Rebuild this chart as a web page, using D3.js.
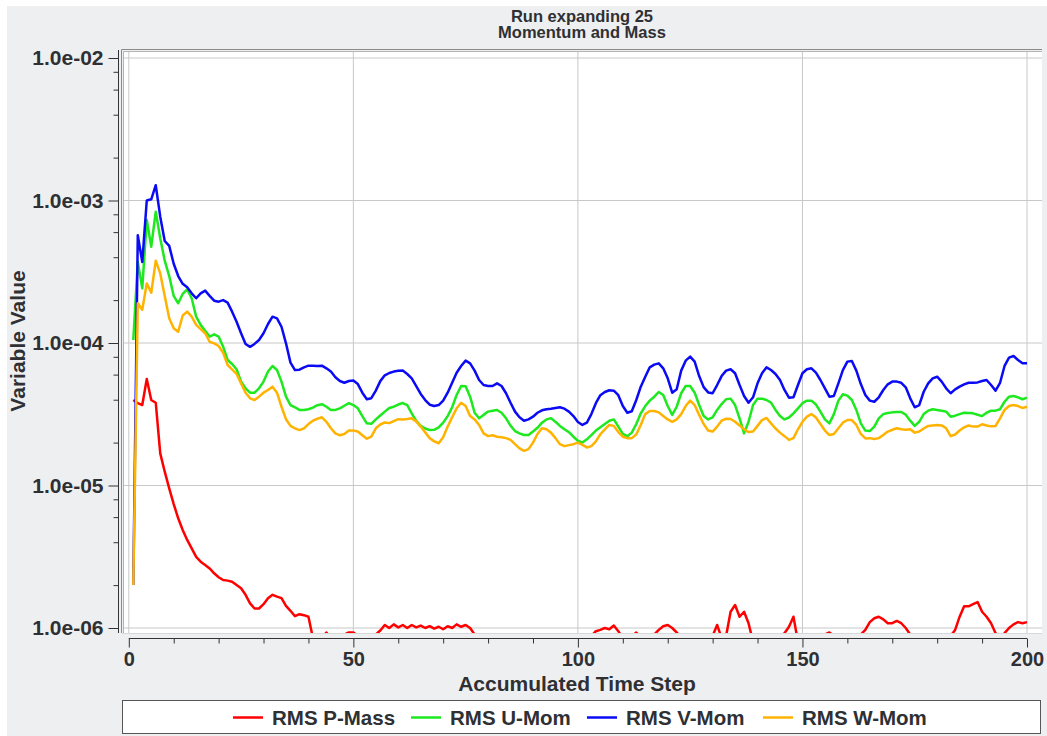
<!DOCTYPE html>
<html>
<head>
<meta charset="utf-8">
<script src="https://cdn.jsdelivr.net/npm/d3@7"></script>
<style>
  body { margin: 0; background: #fff; }
  svg text { font-family: "Liberation Sans", Arial, sans-serif; fill: #2e3033; }
  .tick-label { font-size: 20px; font-weight: bold; }
  .y-tick { font-size: 21px; }
  .axis-label { font-size: 21px; font-weight: bold; }
  .title { font-size: 16.5px; font-weight: bold; }
  .legend-text { font-size: 20.5px; font-weight: bold; }
</style>
</head>
<body>
<svg width="1047" height="736"></svg>
<script>
// chart data: RMS residuals per accumulated time step (1..200)
const steps = d3.range(1, 201);

const pMass = [
  3.98e-5, 3.78e-5, 3.67e-5, 5.59e-5, 3.98e-5, 3.81e-5, 1.68e-5, 1.25e-5, 9.55e-6, 7.41e-6,
  5.89e-6, 4.87e-6, 4.15e-6, 3.62e-6, 3.16e-6, 2.92e-6, 2.77e-6, 2.62e-6, 2.42e-6, 2.27e-6,
  2.17e-6, 2.15e-6, 2.11e-6, 2.0e-6, 1.9e-6, 1.71e-6, 1.49e-6, 1.37e-6, 1.37e-6, 1.47e-6,
  1.62e-6, 1.71e-6, 1.66e-6, 1.62e-6, 1.43e-6, 1.32e-6, 1.21e-6, 1.25e-6, 1.23e-6, 1.2e-6,
  8.5e-7, 8.0e-7, 8.5e-7, 9.3e-7, 8.5e-7, 8.2e-7, 8.6e-7, 9.0e-7, 9.3e-7, 9.3e-7,
  8.8e-7, 8.5e-7, 8.4e-7, 8.6e-7, 9.0e-7, 9.6e-7, 1.05e-6, 1.0e-6, 1.06e-6, 1.01e-6,
  1.05e-6, 1.0e-6, 1.05e-6, 1.01e-6, 1.04e-6, 1.0e-6, 1.03e-6, 9.9e-7, 1.02e-6, 9.8e-7,
  1.03e-6, 1.0e-6, 1.06e-6, 1.02e-6, 1.05e-6, 1.0e-6, 9.0e-7, 8.5e-7, 8.2e-7, 8.0e-7,
  8.3e-7, 8.6e-7, 8.4e-7, 8.0e-7, 7.8e-7, 8.0e-7, 8.2e-7, 8.5e-7, 8.3e-7, 8.1e-7,
  8.0e-7, 8.3e-7, 8.6e-7, 8.4e-7, 8.2e-7, 8.0e-7, 8.2e-7, 8.5e-7, 8.7e-7, 8.5e-7,
  8.3e-7, 8.6e-7, 8.8e-7, 9.5e-7, 9.7e-7, 1.0e-6, 9.8e-7, 1.04e-6, 9.5e-7, 8.5e-7,
  8.4e-7, 8.7e-7, 9.3e-7, 8.6e-7, 8.4e-7, 8.6e-7, 9.0e-7, 9.7e-7, 1.03e-6, 1.05e-6,
  1.0e-6, 9.3e-7, 8.6e-7, 8.4e-7, 8.3e-7, 8.5e-7, 8.6e-7, 8.4e-7, 8.5e-7, 8.8e-7,
  1.05e-6, 8.5e-7, 8.8e-7, 1.3e-6, 1.45e-6, 1.2e-6, 1.3e-6, 1.08e-6, 8.0e-7, 8.2e-7,
  8.4e-7, 8.5e-7, 8.6e-7, 8.5e-7, 8.7e-7, 9.2e-7, 1.02e-6, 1.2e-6, 8.0e-7, 8.2e-7,
  8.4e-7, 8.6e-7, 8.5e-7, 8.7e-7, 9.0e-7, 9.3e-7, 8.8e-7, 8.5e-7, 8.4e-7, 8.3e-7,
  8.5e-7, 8.6e-7, 9.0e-7, 9.7e-7, 1.1e-6, 1.17e-6, 1.2e-6, 1.15e-6, 1.08e-6, 1.08e-6,
  1.12e-6, 1.08e-6, 1.0e-6, 9.0e-7, 8.5e-7, 8.3e-7, 8.4e-7, 8.6e-7, 8.5e-7, 8.4e-7,
  8.6e-7, 8.5e-7, 8.8e-7, 9.7e-7, 1.2e-6, 1.42e-6, 1.42e-6, 1.47e-6, 1.52e-6, 1.3e-6,
  1.2e-6, 1.08e-6, 9.2e-7, 8.5e-7, 9.2e-7, 1.0e-6, 1.06e-6, 1.1e-6, 1.08e-6, 1.1e-6
];

const uMom = [
  1.05e-4, 3.7e-4, 2.42e-4, 7.3e-4, 4.74e-4, 8.35e-4, 5.43e-4, 3.78e-4, 2.95e-4, 2.14e-4,
  1.9e-4, 2.21e-4, 2.38e-4, 2.06e-4, 1.53e-4, 1.34e-4, 1.22e-4, 1.11e-4, 1.15e-4, 1.11e-4,
  9.42e-5, 7.6e-5, 7.12e-5, 6.54e-5, 5.36e-5, 4.81e-5, 4.48e-5, 4.48e-5, 4.81e-5, 5.36e-5,
  6.3e-5, 6.9e-5, 6.46e-5, 5.36e-5, 4.2e-5, 3.67e-5, 3.54e-5, 3.39e-5, 3.39e-5, 3.43e-5,
  3.52e-5, 3.66e-5, 3.72e-5, 3.57e-5, 3.39e-5, 3.39e-5, 3.48e-5, 3.63e-5, 3.78e-5, 3.67e-5,
  3.48e-5, 3.07e-5, 2.73e-5, 2.71e-5, 2.91e-5, 3.1e-5, 3.3e-5, 3.5e-5, 3.57e-5, 3.7e-5,
  3.79e-5, 3.66e-5, 3.21e-5, 2.84e-5, 2.62e-5, 2.51e-5, 2.45e-5, 2.46e-5, 2.56e-5, 2.76e-5,
  3.07e-5, 3.54e-5, 4.32e-5, 4.99e-5, 4.97e-5, 4.2e-5, 3.24e-5, 2.96e-5, 3.13e-5, 3.3e-5,
  3.35e-5, 3.39e-5, 3.24e-5, 2.96e-5, 2.63e-5, 2.41e-5, 2.32e-5, 2.26e-5, 2.26e-5, 2.39e-5,
  2.54e-5, 2.76e-5, 2.91e-5, 2.96e-5, 2.8e-5, 2.62e-5, 2.48e-5, 2.37e-5, 2.2e-5, 2.06e-5,
  2.0e-5, 2.11e-5, 2.26e-5, 2.43e-5, 2.56e-5, 2.7e-5, 2.85e-5, 2.91e-5, 2.59e-5, 2.3e-5,
  2.22e-5, 2.35e-5, 2.7e-5, 3.21e-5, 3.61e-5, 3.94e-5, 4.2e-5, 4.53e-5, 4.32e-5, 3.61e-5,
  3.13e-5, 3.57e-5, 4.44e-5, 4.99e-5, 4.99e-5, 4.48e-5, 3.67e-5, 3.07e-5, 2.91e-5, 3.01e-5,
  3.39e-5, 3.73e-5, 4.03e-5, 4.07e-5, 3.67e-5, 2.96e-5, 2.32e-5, 2.8e-5, 3.67e-5, 4.07e-5,
  4.07e-5, 3.98e-5, 3.82e-5, 3.39e-5, 3.07e-5, 2.91e-5, 3.0e-5, 3.21e-5, 3.48e-5, 3.78e-5,
  3.94e-5, 3.94e-5, 3.7e-5, 3.3e-5, 2.91e-5, 2.73e-5, 3.17e-5, 3.94e-5, 4.37e-5, 4.27e-5,
  3.98e-5, 3.39e-5, 2.73e-5, 2.43e-5, 2.41e-5, 2.59e-5, 2.96e-5, 3.17e-5, 3.23e-5, 3.26e-5,
  3.28e-5, 3.28e-5, 3.14e-5, 2.85e-5, 2.62e-5, 2.8e-5, 3.17e-5, 3.35e-5, 3.43e-5, 3.39e-5,
  3.35e-5, 3.3e-5, 3.04e-5, 3.09e-5, 3.17e-5, 3.24e-5, 3.23e-5, 3.21e-5, 3.14e-5, 3.07e-5,
  3.24e-5, 3.35e-5, 3.35e-5, 3.43e-5, 3.87e-5, 4.2e-5, 4.25e-5, 4.16e-5, 4.03e-5, 4.14e-5
];

const vMom = [
  2.0e-6, 5.7e-4, 3.7e-4, 1.0e-3, 1.02e-3, 1.28e-3, 7.7e-4, 5.2e-4, 4.8e-4, 3.6e-4,
  2.95e-4, 2.6e-4, 2.46e-4, 2.23e-4, 2.06e-4, 2.23e-4, 2.33e-4, 2.14e-4, 1.98e-4, 1.95e-4,
  2.0e-4, 1.92e-4, 1.66e-4, 1.41e-4, 1.17e-4, 9.85e-5, 9.4e-5, 9.85e-5, 1.05e-4, 1.17e-4,
  1.36e-4, 1.53e-4, 1.49e-4, 1.3e-4, 9.95e-5, 7.28e-5, 6.46e-5, 6.5e-5, 6.75e-5, 6.93e-5,
  6.93e-5, 6.9e-5, 6.93e-5, 6.64e-5, 6.3e-5, 5.75e-5, 5.41e-5, 5.26e-5, 5.41e-5, 5.45e-5,
  5.15e-5, 4.48e-5, 4.03e-5, 4.1e-5, 4.63e-5, 5.4e-5, 5.93e-5, 6.16e-5, 6.3e-5, 6.38e-5,
  6.4e-5, 6.06e-5, 5.65e-5, 4.99e-5, 4.39e-5, 3.98e-5, 3.69e-5, 3.61e-5, 3.67e-5, 3.94e-5,
  4.48e-5, 5.26e-5, 6.19e-5, 6.9e-5, 7.52e-5, 7.2e-5, 6.4e-5, 5.5e-5, 5.07e-5, 4.99e-5,
  4.99e-5, 5.21e-5, 4.99e-5, 4.44e-5, 3.81e-5, 3.3e-5, 3.01e-5, 2.85e-5, 2.91e-5, 3.04e-5,
  3.24e-5, 3.37e-5, 3.43e-5, 3.46e-5, 3.5e-5, 3.54e-5, 3.46e-5, 3.3e-5, 3.07e-5, 2.79e-5,
  2.66e-5, 2.76e-5, 3.17e-5, 3.78e-5, 4.3e-5, 4.53e-5, 4.66e-5, 4.63e-5, 4.3e-5, 3.61e-5,
  3.24e-5, 3.32e-5, 3.98e-5, 4.94e-5, 5.8e-5, 6.75e-5, 7.05e-5, 7.2e-5, 6.64e-5, 5.65e-5,
  4.48e-5, 4.73e-5, 6.4e-5, 7.52e-5, 8.02e-5, 7.4e-5, 5.86e-5, 4.9e-5, 4.5e-5, 4.44e-5,
  5.07e-5, 5.86e-5, 6.4e-5, 6.54e-5, 6.13e-5, 5.07e-5, 4.25e-5, 3.81e-5, 4.16e-5, 5.21e-5,
  6.13e-5, 6.75e-5, 6.46e-5, 6.06e-5, 5.5e-5, 4.68e-5, 4.13e-5, 4.16e-5, 5.07e-5, 6.13e-5,
  6.54e-5, 6.64e-5, 6.19e-5, 5.5e-5, 4.81e-5, 4.2e-5, 4.25e-5, 5.21e-5, 6.46e-5, 7.4e-5,
  7.48e-5, 6.4e-5, 5.15e-5, 4.32e-5, 3.94e-5, 3.87e-5, 4.16e-5, 4.68e-5, 5.13e-5, 5.36e-5,
  5.36e-5, 5.26e-5, 4.89e-5, 4.09e-5, 3.54e-5, 3.66e-5, 4.55e-5, 5.21e-5, 5.65e-5, 5.8e-5,
  5.36e-5, 4.81e-5, 4.44e-5, 4.73e-5, 4.94e-5, 5.13e-5, 5.26e-5, 5.26e-5, 5.29e-5, 5.41e-5,
  5.5e-5, 5.07e-5, 4.63e-5, 5.26e-5, 6.9e-5, 7.89e-5, 8.1e-5, 7.6e-5, 7.2e-5, 7.2e-5
];

const wMom = [
  2.0e-6, 1.9e-4, 1.71e-4, 2.62e-4, 2.25e-4, 3.78e-4, 3.08e-4, 2.14e-4, 1.49e-4, 1.27e-4,
  1.2e-4, 1.56e-4, 1.66e-4, 1.53e-4, 1.34e-4, 1.25e-4, 1.17e-4, 1.02e-4, 9.95e-5, 9.52e-5,
  8.55e-5, 7.01e-5, 6.54e-5, 6.06e-5, 5.21e-5, 4.48e-5, 4.09e-5, 3.98e-5, 4.2e-5, 4.48e-5,
  4.68e-5, 4.94e-5, 4.48e-5, 3.57e-5, 2.92e-5, 2.62e-5, 2.52e-5, 2.45e-5, 2.52e-5, 2.7e-5,
  2.85e-5, 2.94e-5, 3.01e-5, 2.8e-5, 2.52e-5, 2.32e-5, 2.25e-5, 2.3e-5, 2.43e-5, 2.43e-5,
  2.39e-5, 2.25e-5, 2.13e-5, 2.2e-5, 2.52e-5, 2.68e-5, 2.77e-5, 2.74e-5, 2.83e-5, 2.92e-5,
  2.91e-5, 2.93e-5, 2.96e-5, 2.82e-5, 2.59e-5, 2.36e-5, 2.15e-5, 2.04e-5, 1.98e-5, 2.18e-5,
  2.59e-5, 3.01e-5, 3.48e-5, 3.81e-5, 3.61e-5, 3.07e-5, 2.91e-5, 2.66e-5, 2.32e-5, 2.22e-5,
  2.25e-5, 2.2e-5, 2.18e-5, 2.15e-5, 2.09e-5, 1.95e-5, 1.82e-5, 1.75e-5, 1.8e-5, 2.0e-5,
  2.3e-5, 2.52e-5, 2.48e-5, 2.35e-5, 2.15e-5, 1.95e-5, 1.89e-5, 1.92e-5, 1.95e-5, 2.0e-5,
  1.93e-5, 1.85e-5, 1.89e-5, 2.04e-5, 2.29e-5, 2.48e-5, 2.66e-5, 2.62e-5, 2.37e-5, 2.2e-5,
  2.15e-5, 2.15e-5, 2.28e-5, 2.66e-5, 3.17e-5, 3.33e-5, 3.33e-5, 3.26e-5, 3.07e-5, 2.91e-5,
  2.8e-5, 2.91e-5, 3.17e-5, 3.61e-5, 3.94e-5, 3.67e-5, 3.13e-5, 2.7e-5, 2.43e-5, 2.39e-5,
  2.59e-5, 2.85e-5, 2.94e-5, 2.93e-5, 2.8e-5, 2.64e-5, 2.48e-5, 2.37e-5, 2.39e-5, 2.62e-5,
  2.88e-5, 2.98e-5, 2.73e-5, 2.51e-5, 2.35e-5, 2.22e-5, 2.09e-5, 2.15e-5, 2.48e-5, 2.8e-5,
  3.04e-5, 3.17e-5, 3.0e-5, 2.7e-5, 2.43e-5, 2.26e-5, 2.3e-5, 2.52e-5, 2.76e-5, 2.88e-5,
  2.88e-5, 2.66e-5, 2.3e-5, 2.14e-5, 2.15e-5, 2.12e-5, 2.15e-5, 2.26e-5, 2.39e-5, 2.46e-5,
  2.52e-5, 2.48e-5, 2.46e-5, 2.48e-5, 2.35e-5, 2.39e-5, 2.51e-5, 2.62e-5, 2.64e-5, 2.66e-5,
  2.64e-5, 2.52e-5, 2.22e-5, 2.28e-5, 2.43e-5, 2.56e-5, 2.64e-5, 2.59e-5, 2.59e-5, 2.69e-5,
  2.64e-5, 2.6e-5, 2.62e-5, 2.96e-5, 3.39e-5, 3.61e-5, 3.67e-5, 3.61e-5, 3.5e-5, 3.57e-5
];

const seriesNames = ['RMS P-Mass', 'RMS U-Mom', 'RMS V-Mom', 'RMS W-Mom'];
const seriesColors = ['#ff0000', '#1ee81e', '#0a0af5', '#ffb300'];
const seriesValues = [pMass, uMom, vMom, wMom];

const titleLines = ['Run expanding 25', 'Momentum and Mass'];
const xTicks = [0, 50, 100, 150, 200];
const yTicks = [1e-6, 1e-5, 1e-4, 1e-3, 1e-2];

//declare svg variables
const svg = d3.select('svg');

// grey chart panel
svg.append('rect')
    .attr('x', 7).attr('y', 6)
    .attr('width', 1040).attr('height', 730)
    .attr('fill', '#eeeff1');

// plot area
const plot = { left: 124, right: 1042, top: 52, bottom: 633 };

const xScale = d3.scaleLinear()
    .domain([0, 200])
    .range([128.8, 1027]);

const yScale = d3.scaleLog()
    .domain([1e-6, 1e-2])
    .range([628, 58]);

svg.append('rect')
    .attr('x', plot.left).attr('y', plot.top)
    .attr('width', plot.right - plot.left).attr('height', plot.bottom - plot.top)
    .attr('fill', '#fff');

// grid lines
svg.append('g').selectAll('line').data(xTicks).enter().append('line')
    .attr('x1', d => xScale(d)).attr('x2', d => xScale(d))
    .attr('y1', plot.top).attr('y2', plot.bottom)
    .attr('stroke', '#c8c8c8').attr('stroke-width', 1);

svg.append('g').selectAll('line').data(yTicks).enter().append('line')
    .attr('x1', plot.left).attr('x2', plot.right)
    .attr('y1', d => yScale(d)).attr('y2', d => yScale(d))
    .attr('stroke', '#c8c8c8').attr('stroke-width', 1);

// frame round the plot
svg.append('path')
    .attr('d', `M${plot.left - 2.5},${plot.bottom} V${plot.top - 2.5} H${plot.right}`)
    .attr('fill', 'none').attr('stroke', '#8a8a8a').attr('stroke-width', 1);
svg.append('path')
    .attr('d', `M${plot.left - 0.5},${plot.bottom} V${plot.top - 0.5} H${plot.right}`)
    .attr('fill', 'none').attr('stroke', '#b4b4b4').attr('stroke-width', 1);
svg.append('line')
    .attr('x1', plot.left - 2).attr('x2', plot.right)
    .attr('y1', plot.bottom + 0.5).attr('y2', plot.bottom + 0.5)
    .attr('stroke', '#d8d8d8');

// series lines, clipped to plot area
svg.append('clipPath').attr('id', 'plot-clip')
    .append('rect')
    .attr('x', plot.left).attr('y', plot.top)
    .attr('width', plot.right - plot.left).attr('height', plot.bottom - plot.top);

const line = d3.line()
    .x(d => xScale(d[0]))
    .y(d => yScale(d[1]));

const linesG = svg.append('g').attr('clip-path', 'url(#plot-clip)');
seriesValues.forEach((values, i) => {
    linesG.append('path')
        .datum(steps.map((s, j) => [s, values[j]]))
        .attr('d', line)
        .attr('fill', 'none')
        .attr('stroke', seriesColors[i])
        .attr('stroke-width', 2.5)
        .attr('stroke-linejoin', 'round');
});

// y axis
const yMinor = [];
yTicks.slice(0, -1).forEach(t => [2, 4, 6, 8].forEach(m => yMinor.push(t * m)));

const yAxisG = svg.append('g').attr('transform', 'translate(118.5,0)');
yAxisG.call(d3.axisLeft(yScale).tickValues(yTicks).tickSize(10)
    .tickFormat(d => d.toExponential(1).replace(/e([+-])(\d)$/, 'e$10$2')));
yAxisG.append('g').call(d3.axisLeft(yScale).tickValues(yMinor).tickSize(5).tickFormat(''))
    .select('.domain').remove();
yAxisG.select('.domain').attr('d', `M0,${plot.top - 2}V${plot.bottom}`);
yAxisG.selectAll('.domain, line').attr('stroke', '#333');
yAxisG.selectAll('.tick text')
    .attr('class', 'tick-label y-tick')
    .attr('x', -15)
    .attr('fill', '#2e3033');

// x axis
const xMinor = d3.range(0, 201, 10).filter(d => d % 50 !== 0);
const xAxisG = svg.append('g').attr('transform', 'translate(0,638.5)');
xAxisG.call(d3.axisBottom(xScale).tickValues(xTicks).tickSize(9));
xAxisG.append('g').call(d3.axisBottom(xScale).tickValues(xMinor).tickSize(5).tickFormat(''))
    .select('.domain').remove();
xAxisG.select('.domain').attr('d', `M${xScale(0)},0H${xScale(200)}`);
xAxisG.selectAll('.domain, line').attr('stroke', '#333');
xAxisG.selectAll('.tick text')
    .attr('class', 'tick-label')
    .attr('y', 13)
    .attr('fill', '#2e3033');

// axis titles
svg.append('text')
    .attr('class', 'axis-label')
    .attr('x', 577).attr('y', 691)
    .attr('text-anchor', 'middle')
    .text('Accumulated Time Step');

svg.append('text')
    .attr('class', 'axis-label')
    .attr('transform', 'translate(25,341) rotate(-90)')
    .attr('text-anchor', 'middle')
    .text('Variable Value');

// chart title
svg.selectAll('.title').data(titleLines).enter().append('text')
    .attr('class', 'title')
    .attr('x', 582)
    .attr('y', (d, i) => 21.5 + i * 16.8)
    .attr('text-anchor', 'middle')
    .text(d => d);

// legend
svg.append('rect')
    .attr('x', 122.5).attr('y', 700.5)
    .attr('width', 918).attr('height', 33)
    .attr('fill', '#fff').attr('stroke', '#555');

const legendX = [233, 411, 587, 763];
const legendG = svg.append('g').selectAll('g').data(seriesNames).enter().append('g')
    .attr('transform', (d, i) => `translate(${legendX[i]},717.5)`);
legendG.append('line')
    .attr('x1', 0).attr('x2', 30)
    .attr('stroke', (d, i) => seriesColors[i])
    .attr('stroke-width', 2.5);
legendG.append('text')
    .attr('class', 'legend-text')
    .attr('x', 39).attr('y', 7.3)
    .text(d => d);
</script>
</body>
</html>
